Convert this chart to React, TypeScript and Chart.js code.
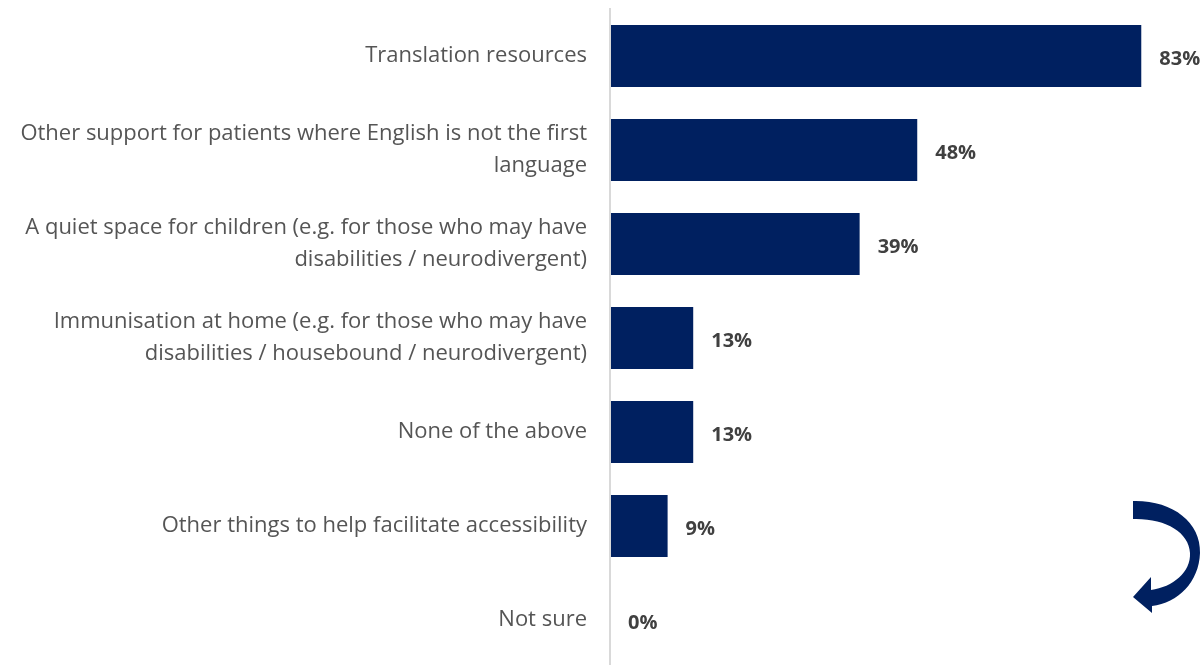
import React, { useEffect, useRef } from "react";
import { Chart, registerables } from "chart.js";

Chart.register(...registerables);

const categories: string[][] = [
  ["Translation resources"],
  ["Other support for patients where English is not the first", "language"],
  ["A quiet space for children (e.g. for those who may have", "disabilities / neurodivergent)"],
  ["Immunisation at home (e.g. for those who may have", "disabilities / housebound / neurodivergent)"],
  ["None of the above"],
  ["Other things to help facilitate accessibility"],
  ["Not sure"],
];
const values: number[] = [83, 48, 39, 13, 13, 9, 0];
const valueLabels: string[] = ["83%", "48%", "39%", "13%", "13%", "9%", "0%"];

const FONT = "Open Sans, Lato, sans-serif";

const valueLabelPlugin = {
  id: "valueLabels",
  afterDatasetsDraw(chart: any) {
    const ctx = chart.ctx;
    const meta = chart.getDatasetMeta(0);
    ctx.save();
    ctx.font = `bold 20px ${FONT}`;
    ctx.fillStyle = "#404040";
    ctx.textAlign = "left";
    ctx.textBaseline = "middle";
    meta.data.forEach((bar: any, i: number) => {
      ctx.fillText(valueLabels[i], bar.x + 18, bar.y + 3);
    });
    ctx.restore();
  },
};

const axisLinePlugin = {
  id: "axisLine",
  afterDraw(chart: any) {
    const ctx = chart.ctx;
    const x = chart.scales.x.getPixelForValue(0);
    ctx.save();
    ctx.strokeStyle = "#d9d9d9";
    ctx.lineWidth = 2;
    ctx.beginPath();
    ctx.moveTo(x, 8);
    ctx.lineTo(x, 665);
    ctx.stroke();

    // decorative curved arrow
    ctx.fillStyle = "#002060";
    ctx.beginPath();
    ctx.moveTo(1133, 501);
    ctx.bezierCurveTo(1172, 500, 1201, 522, 1200, 553);
    ctx.bezierCurveTo(1199, 582, 1178, 603, 1152, 606);
    ctx.lineTo(1152, 613);
    ctx.lineTo(1133, 597);
    ctx.lineTo(1151, 577);
    ctx.lineTo(1151, 590);
    ctx.bezierCurveTo(1173, 587, 1191, 572, 1190, 553);
    ctx.bezierCurveTo(1189, 532, 1165, 518, 1133, 519);
    ctx.closePath();
    ctx.fill();
    ctx.restore();
  },
};

export default function App() {
  const ref = useRef<HTMLCanvasElement | null>(null);
  useEffect(() => {
    if (!ref.current) return;
    const chart = new Chart(ref.current, {
      type: "bar",
      data: {
        labels: categories,
        datasets: [
          {
            data: values,
            backgroundColor: "#002060",
            borderWidth: 0,
            categoryPercentage: 1,
            barPercentage: 0.66,
          },
        ],
      },
      options: {
        indexAxis: "y",
        animation: false,
        responsive: false,
        maintainAspectRatio: false,
        layout: { padding: { top: 9, bottom: 0, left: 0, right: 0 } },
        plugins: { legend: { display: false }, tooltip: { enabled: false } },
        scales: {
          x: {
            display: false,
            min: 0,
            max: 92.8,
          },
          y: {
            grid: { display: false, drawTicks: false },
            border: { display: false },
            ticks: {
              color: "#555555",
              padding: 23,
              font: { family: FONT, size: 22, lineHeight: 1.45 },
            },
            afterFit(scale: any) {
              scale.width = 610;
              scale.paddingTop = 0;
              scale.paddingBottom = 0;
            },
          },
        },
      },
      plugins: [valueLabelPlugin, axisLinePlugin],
    });
    return () => chart.destroy();
  }, []);
  return (
    <div style={{ position: "fixed", left: 0, top: 0, width: 1204, height: 667, background: "#fff" }}>
      <canvas ref={ref} width={1204} height={667} style={{ display: "block" }} />
    </div>
  );
}
